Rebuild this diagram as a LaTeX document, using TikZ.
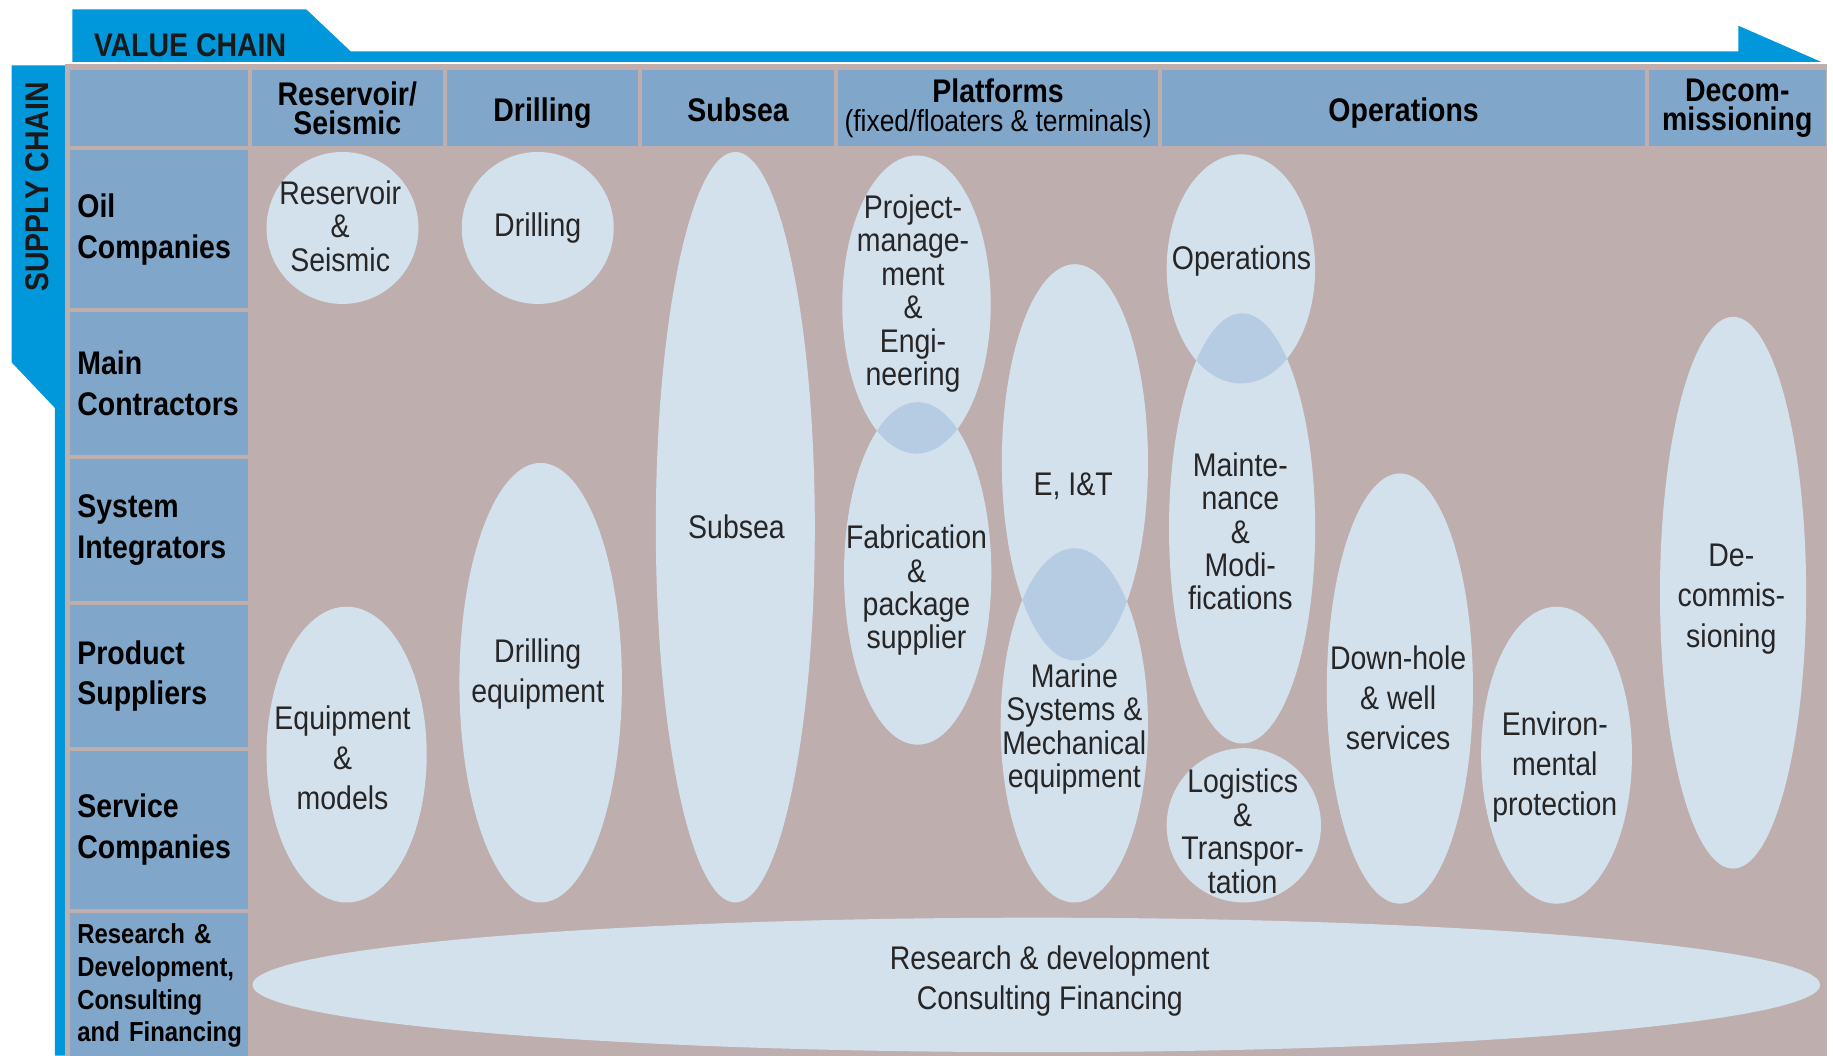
\documentclass[tikz,border=0pt]{standalone}
\usepackage{fontspec}
\setmainfont{Liberation Sans}[FakeStretch=0.87]
\usetikzlibrary{positioning}

\definecolor{chainblue}{HTML}{0098DA}
\definecolor{cellblue}{HTML}{80A6C9}
\definecolor{mauve}{HTML}{BFAEAE}
\definecolor{ovalblue}{HTML}{D3E1ED}
\definecolor{lensblue}{HTML}{B5CCE2}

\newcommand{\hdrfont}{\fontsize{28}{25}\selectfont\bfseries}
\newcommand{\lblfont}{\fontsize{28}{35}\selectfont\bfseries}
\newcommand{\ovalfont}{\fontsize{28}{28.6}\selectfont}
\newcommand{\loosefont}{\fontsize{28}{34.3}\selectfont}

\tikzset{
  hcell/.style={fill=cellblue, inner sep=0pt, minimum height=65pt, align=center, font=\hdrfont},
  hcellone/.style={hcell, text height=24pt, text depth=2pt},
  rcell/.style={fill=cellblue, inner xsep=6pt, inner ysep=0pt, text width=140pt, align=left, font=\lblfont},
  oval/.style={fill=ovalblue},
  lens/.style={fill=lensblue},
  otext/.style={align=center, inner sep=0pt, text=black!85, font=\ovalfont},
  ltext/.style={otext, font=\loosefont},
}

\begin{document}
\begin{tikzpicture}[x=1pt,y=-1pt]
		\useasboundingbox (0,0) rectangle (1568,903);
		
		\fill[chainblue] (62,8) -- (262,8) -- (300,44) -- (1487,44) -- (1487,22) -- (1558,53) -- (62,53) -- cycle;
		\fill[chainblue] (10,56) -- (56,56) -- (56,903) -- (47,903) -- (47,349) -- (10,310) -- cycle;
		\node[anchor=west, inner sep=0pt, font=\lblfont, text=black!90] (vc) at (80,39) {VALUE CHAIN};
		\node[rotate=90, inner sep=0pt, font=\lblfont, text=black!90] (sc) at (32,160) {SUPPLY CHAIN};
		
		\fill[mauve] (56,55) rectangle (1563,903);
		
		\node[hcell, minimum width=152pt, anchor=north west] (corner) at (60,60) {};
		\node[hcell, minimum width=163pt, right=3pt of corner] (hres) {Reservoir/\\Seismic};
		\node[hcellone, minimum width=164pt, right=3pt of hres] (hdrl) {Drilling};
		\node[hcellone, minimum width=164pt, right=3pt of hdrl] (hsub) {Subsea};
		\node[hcell, minimum width=274pt, right=3pt of hsub] (hplat) {Platforms\\{\fontsize{26}{25}\selectfont\mdseries (fixed/floaters \& terminals)}};
		\node[hcellone, minimum width=413pt, right=3pt of hplat] (hops) {Operations};
		\node[hcell, minimum width=151pt, right=3pt of hops] (hdec) {Decom-\\missioning};
		
		\node[rcell, minimum height=135pt, below=3pt of corner] (oil) {Oil\\Companies};
		\node[rcell, minimum height=122pt, below=3pt of oil] (main) {Main\\Contractors};
		\node[rcell, minimum height=122pt, below=3pt of main] (sys) {System\\Integrators};
		\node[rcell, minimum height=121pt, below=3pt of sys] (prod) {Product\\Suppliers};
		\node[rcell, minimum height=135pt, below=3pt of prod] (serv) {Service\\Companies};
		\node[rcell, minimum height=125pt, below=3pt of serv, font=\fontsize{23.5}{28}\selectfont\bfseries] (rnd) {\mbox{Research \&}\\\mbox{Development,}\\\mbox{Consulting}\\\mbox{and Financing}};
		
		\fill[oval] (293,195) circle [radius=65];
		\fill[oval] (460,195) circle [radius=65];
		\fill[oval] (629,451) ellipse [x radius=68, y radius=321];
		\fill[oval] (784,260.5) ellipse [x radius=63.5, y radius=127.5];
		\fill[oval] (785,490.5) ellipse [x radius=63, y radius=146.5];
		\fill[oval] (919.5,395.5) ellipse [x radius=62.5, y radius=169.5];
		\fill[oval] (919,620.5) ellipse [x radius=63, y radius=151.5];
		\fill[oval] (1061.5,230) ellipse [x radius=63.5, y radius=98];
		\fill[oval] (1062.5,452) ellipse [x radius=62.5, y radius=184];
		\fill[oval] (1064,706) circle [radius=66];
		\fill[oval] (1197.5,589) ellipse [x radius=62.5, y radius=184];
		\fill[oval] (1331.5,646) ellipse [x radius=64.5, y radius=127];
		\fill[oval] (1482.5,507) ellipse [x radius=62.5, y radius=236];
		\fill[oval] (296.5,645.5) ellipse [x radius=68.5, y radius=126.5];
		\fill[oval] (462.5,584) ellipse [x radius=69.5, y radius=188];
		\fill[oval] (886.5,842.5) ellipse [x radius=670.5, y radius=57.5];
		
		\begin{scope}
			\clip (784,260.5) ellipse [x radius=63.5, y radius=127.5];
			\fill[lens] (785,490.5) ellipse [x radius=63, y radius=146.5];
		\end{scope}
		\begin{scope}
			\clip (919.5,395.5) ellipse [x radius=62.5, y radius=169.5];
			\fill[lens] (919,620.5) ellipse [x radius=63, y radius=151.5];
		\end{scope}
		\begin{scope}
			\clip (1061.5,230) ellipse [x radius=63.5, y radius=98];
			\fill[lens] (1062.5,452) ellipse [x radius=62.5, y radius=184];
		\end{scope}
		
		\node[otext] (tres) at (291,193.5) {Reservoir\\\&\\Seismic};
		\node[otext] (tdrl) at (460,195) {Drilling};
		\node[otext] (tsub) at (630,451) {Subsea};
		\node[otext] (tproj) at (781,251) {Project-\\manage-\\ment\\\&\\Engi-\\neering};
		\node[otext] (tfab) at (784,505) {Fabrication\\\&\\package\\supplier};
		\node[otext] (teit) at (918,416) {E, I\&T};
		\node[otext] (tmar) at (919,623.5) {Marine\\Systems \&\\Mechanical\\equipment};
		\node[otext] (tops) at (1062,223) {Operations};
		\node[otext] (tmnt) at (1061,454.5) {Mainte-\\nance\\\&\\Modi-\\fications};
		\node[otext] (tlog) at (1063,711) {Logistics\\\&\\Transpor-\\tation};
		\node[ltext] (tdown) at (1196,597) {Down-hole\\\& well\\services};
		\node[ltext] (tenv) at (1330,656) {Environ-\\mental\\protection};
		\node[ltext] (tdec) at (1481,512.5) {De-\\commis-\\sioning};
		\node[ltext] (teq) at (293,648) {Equipment\\\&\\models};
		\node[ltext] (tdeq) at (460,576.5) {Drilling\\equipment};
		\node[ltext] (trnd) at (898,839.5) {Research \& development\\Consulting Financing};
	\end{tikzpicture}
\end{document}
